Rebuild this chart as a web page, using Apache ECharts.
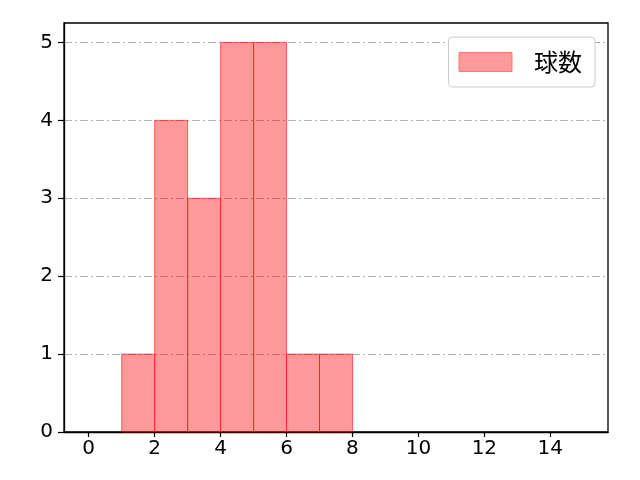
<!DOCTYPE html>
<html><head><meta charset="utf-8">
<script src="https://cdn.jsdelivr.net/npm/echarts@6/dist/echarts.min.js"></script>
<style>html,body{margin:0;padding:0;background:#fff}#c{width:640px;height:480px}</style>
</head><body><div id="c"></div>
<script>
const binStarts = [1, 2, 3, 4, 5, 6, 7];
const binWidth = 1;
const counts = [1, 4, 3, 5, 5, 1, 1];
const xTicks = [0, 2, 4, 6, 8, 10, 12, 14];
const yTicks = [0, 1, 2, 3, 4, 5];
const seriesName = '球数';

const data = binStarts.map((s, i) => [s, s + binWidth, counts[i]]);
const font = '"Noto Sans CJK JP", "DejaVu Sans", sans-serif';
const tickFont = '"DejaVu Sans", sans-serif';
const chart = echarts.init(document.getElementById('c'));
chart.setOption({
  animation: false,
  grid: {left: 64, right: 32, top: 23, bottom: 48, show: true, borderColor: '#000', borderWidth: 1.3, backgroundColor: 'transparent'},
  xAxis: {
    type: 'value', min: -0.75, max: 15.75,
    axisLine: {show: true, onZero: false, lineStyle: {color: '#000', width: 1.3}},
    axisTick: {show: true, length: 5, customValues: xTicks, lineStyle: {color: '#000', width: 1.2}},
    axisLabel: {customValues: xTicks, color: '#000', fontSize: 20, fontFamily: tickFont, margin: 7},
    splitLine: {show: false}
  },
  yAxis: {
    type: 'value', min: 0, max: 5.25,
    axisLine: {show: true, onZero: false, lineStyle: {color: '#000', width: 1.3}},
    axisTick: {show: true, length: 6, customValues: yTicks, lineStyle: {color: '#000', width: 1.2}},
    axisLabel: {customValues: yTicks, color: '#000', fontSize: 20, fontFamily: tickFont, margin: 11},
    splitLine: {show: true, customValues: yTicks, lineStyle: {color: '#b0b0b0', width: 1, type: [8, 3, 2, 3]}}
  },
  legend: {
    right: 45, top: 37, orient: 'vertical',
    padding: [13, 13, 13, 10],
    borderColor: '#cccccc', borderWidth: 1, borderRadius: 4, backgroundColor: '#fff',
    itemWidth: 53, itemHeight: 19,
    textStyle: {fontSize: 24, fontFamily: font, color: '#000', padding: [0, 0, 0, 17]},
    data: [{name: seriesName, icon: 'rect', itemStyle: {color: '#ff9999', borderColor: '#ff7777', borderWidth: 1}}]
  },
  series: [{
    type: 'custom', name: seriesName,
    itemStyle: {color: '#ff9999'},
    data: data,
    encode: {x: [0, 1], y: 2},
    renderItem: function (params, api) {
      const p0 = api.coord([api.value(0), api.value(2)]);
      const p1 = api.coord([api.value(1), 0]);
      return {
        type: 'rect',
        shape: {x: p0[0], y: p0[1], width: p1[0] - p0[0], height: p1[1] - p0[1]},
        style: {fill: 'rgba(255,0,0,0.4)', stroke: 'rgba(255,0,0,0.55)', lineWidth: 1}
      };
    }
  }]
});
</script></body></html>
